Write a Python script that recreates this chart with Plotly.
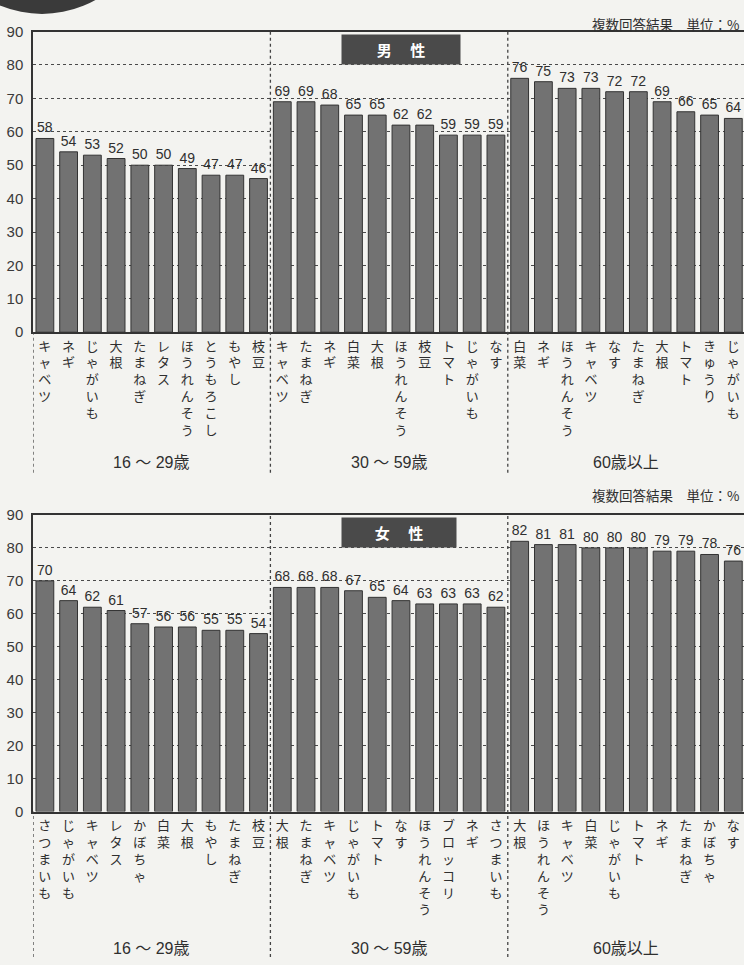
import plotly.graph_objects as go

# ---- data: vegetables by age group (%, multiple answers) ----
age_groups = ["16 ～ 29歳", "30 ～ 59歳", "60歳以上"]

male_young_cats = ["キャベツ", "ネギ", "じゃがいも", "大根", "たまねぎ", "レタス",
                   "ほうれんそう", "とうもろこし", "もやし", "枝豆"]
male_young_vals = [58, 54, 53, 52, 50, 50, 49, 47, 47, 46]
male_mid_cats = ["キャベツ", "たまねぎ", "ネギ", "白菜", "大根", "ほうれんそう",
                 "枝豆", "トマト", "じゃがいも", "なす"]
male_mid_vals = [69, 69, 68, 65, 65, 62, 62, 59, 59, 59]
male_old_cats = ["白菜", "ネギ", "ほうれんそう", "キャベツ", "なす", "たまねぎ",
                 "大根", "トマト", "きゅうり", "じゃがいも"]
male_old_vals = [76, 75, 73, 73, 72, 72, 69, 66, 65, 64]

female_young_cats = ["さつまいも", "じゃがいも", "キャベツ", "レタス", "かぼちゃ",
                     "白菜", "大根", "もやし", "たまねぎ", "枝豆"]
female_young_vals = [70, 64, 62, 61, 57, 56, 56, 55, 55, 54]
female_mid_cats = ["大根", "たまねぎ", "キャベツ", "じゃがいも", "トマト", "なす",
                   "ほうれんそう", "ブロッコリ", "ネギ", "さつまいも"]
female_mid_vals = [68, 68, 68, 67, 65, 64, 63, 63, 63, 62]
female_old_cats = ["大根", "ほうれんそう", "キャベツ", "白菜", "じゃがいも", "トマト",
                   "ネギ", "たまねぎ", "かぼちゃ", "なす"]
female_old_vals = [82, 81, 81, 80, 80, 80, 79, 79, 78, 76]

y_ticks = [0, 10, 20, 30, 40, 50, 60, 70, 80, 90]

# ---- style ----
W, H = 744, 965
BG = "#f3f3f0"
INK = "#2f2f2f"
BAR = "#727272"
FONT = "Liberation Sans, Arial, Noto Sans CJK JP"


def px_x(p):
    return p / W


def px_y(p):
    return 1 - p / H


def vertical(name):
    # stack the characters top-to-bottom (tategaki style)
    return "<br>".join(name)


panels = [
    dict(title="男\u3000 性",
         cats=[male_young_cats, male_mid_cats, male_old_cats],
         vals=[male_young_vals, male_mid_vals, male_old_vals],
         top=23, bottom=329, label_y=462, sep_end=472, note_y=15,
         box=(343, 459, 28, 55)),
    dict(title="女\u3000 性",
         cats=[female_young_cats, female_mid_cats, female_old_cats],
         vals=[female_young_vals, female_mid_vals, female_old_vals],
         top=515, bottom=817, label_y=956, sep_end=965, note_y=495,
         box=(343, 455, 519, 546)),
]

fig = go.Figure()
annotations = []
shapes = []

for k, p in enumerate(panels, start=1):
    xa = "x" if k == 1 else f"x{k}"
    ya = "y" if k == 1 else f"y{k}"
    names = [c for grp in p["cats"] for c in grp]
    values = [v for grp in p["vals"] for v in grp]
    idx = list(range(len(names)))
    n_grp = len(p["cats"][0])

    fig.add_trace(go.Bar(
        x=idx, y=values, xaxis=xa, yaxis=ya, width=0.75,
        marker=dict(color=BAR, line=dict(color="#333333", width=1)),
        text=[str(v) for v in values], textposition="outside",
        textfont=dict(family=FONT, size=14, color=INK),
        cliponaxis=False, constraintext="none", showlegend=False,
        hoverinfo="skip",
    ))

    axis_sfx = "" if k == 1 else str(k)
    fig.update_layout(**{
        f"xaxis{axis_sfx}": dict(
            domain=[px_x(33), 1], range=[-0.5, 29.45], anchor=ya,
            tickmode="array", tickvals=idx, ticktext=[vertical(n) for n in names],
            tickfont=dict(family=FONT, size=13, color=INK), tickangle=0,
            ticks="", showgrid=False, zeroline=False, ticklabelstandoff=1,
            ticklabeloverflow="allow",
            showline=True, mirror=True, linecolor="#333333", linewidth=1.5,
            fixedrange=True,
        ),
        f"yaxis{axis_sfx}": dict(
            domain=[px_y(p["bottom"]), px_y(p["top"])], range=[0, 90], anchor=xa,
            tickmode="array", tickvals=y_ticks,
            tickfont=dict(family=FONT, size=15, color="#3a3a3a"),
            ticks="", showgrid=True, griddash="dot", gridcolor="#4a4a4a",
            gridwidth=1.2, zeroline=False, showline=True, linecolor="#333333",
            linewidth=1.5, ticklabelstandoff=5, fixedrange=True,
        ),
    })

    # dotted separators between age groups, running down through the labels
    for g in range(1, len(p["cats"])):
        shapes.append(dict(type="line", xref=xa, yref="paper",
                           x0=g * n_grp - 0.5, x1=g * n_grp - 0.5,
                           y0=px_y(p["sep_end"]), y1=px_y(p["top"]),
                           line=dict(color="#444444", width=1.3, dash="dot")))
    shapes.append(dict(type="line", xref=xa, yref="paper", x0=-0.5, x1=-0.5,
                       y0=px_y(p["sep_end"]), y1=px_y(p["bottom"]),
                       line=dict(color="#444444", width=1.3, dash="dot")))

    # age-group captions
    for g, label in enumerate(age_groups):
        annotations.append(dict(xref=xa, yref="paper", x=g * n_grp + (n_grp - 1) / 2,
                                y=px_y(p["label_y"]), xanchor="center", yanchor="middle",
                                text=label, showarrow=False,
                                font=dict(family=FONT, size=16, color=INK)))

    # dark title tab
    x0, x1, y0, y1 = p["box"]
    annotations.append(dict(xref="paper", yref="paper",
                            x=px_x((x0 + x1) / 2), y=px_y((y0 + y1) / 2),
                            xanchor="center", yanchor="middle",
                            width=x1 - x0, height=y1 - y0, bgcolor="#4a4a4a",
                            text="<b>" + p["title"] + "</b>", showarrow=False,
                            font=dict(family="Noto Sans CJK JP", size=15, color="white")))

    # note above the top-right corner
    annotations.append(dict(xref="paper", yref="paper", x=px_x(590),
                            y=px_y(p["note_y"]), xanchor="left", yanchor="middle",
                            text="複数回答結果\u3000単位：%", showarrow=False,
                            font=dict(family="Noto Sans CJK JP", size=13.5, color=INK)))

# edge of the round badge peeking in at the top-left
shapes.append(dict(type="circle", xref="paper", yref="paper",
                   x0=px_x(-66), x1=px_x(150), y0=px_y(5), y1=px_y(-211),
                   fillcolor="#3a3a3a", line=dict(width=0)))

fig.update_layout(
    width=W, height=H, margin=dict(l=0, r=0, t=0, b=0),
    paper_bgcolor=BG, plot_bgcolor=BG,
    bargap=0.25, annotations=annotations, shapes=shapes,
    font=dict(family=FONT, color=INK),
)

fig.write_html("out.html")
